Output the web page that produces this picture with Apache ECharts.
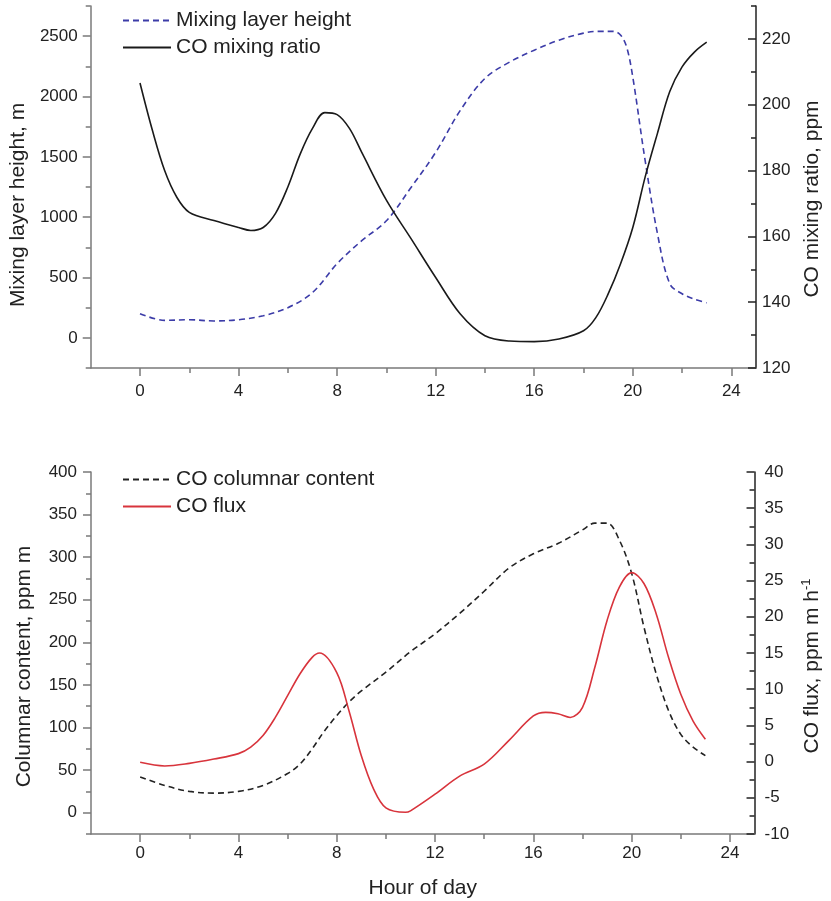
<!DOCTYPE html>
<html><head><meta charset="utf-8">
<script src="https://cdn.jsdelivr.net/npm/echarts@6/dist/echarts.min.js"></script>
<style>html,body{margin:0;padding:0;background:#fff}#c{width:831px;height:901px}</style>
</head><body><div id="c"></div>
<script>
// ---- Data ----
const mlhHours  = [0,1,2,3,4,5,6,7,8,9,10,11,12,13,14,15,16,17,18,18.6,19.2,19.5,19.75,20,20.5,21,21.5,22,22.5,23];
const mlhValues = [200,145,150,140,150,183,250,375,615,805,970,1246,1537,1885,2150,2285,2384,2467,2525,2540,2540,2510,2410,2160,1470,864,448,365,320,290];

const coHours  = [0,0.5,1,1.5,2,3,4,4.5,5,5.5,6,6.5,7,7.5,8,8.5,9,10,11,12,13,14,15,16,17,18,18.5,19,19.5,20,20.5,21,21.5,22,22.5,23];
const coValues = [206.6,192.3,180,171.8,167.3,164.8,162.7,161.8,162.7,167,175,185,192.8,197.6,197,192.8,185.5,171,159.3,147.5,136.4,129.8,128.2,128,128.8,131.3,135.3,142.5,151.6,162.7,178,191.3,204,211.5,216,219];

const colHours  = [0,1,2,3,4,5,6,6.5,7,7.5,8,8.5,9,10,11,12,13,14,15,16,17,18,18.5,19,19.5,20,20.5,21,21.5,22,22.5,23];
const colValues = [42,32,25,23,25,32,46,57,75,96,114,130,143,165,189,210,234,260,287,304,316,332,340,340,320,281,218,163,120,92,77,67];

const fluxHours  = [0,1,2,3,4,4.5,5,5.5,6,6.5,7,7.3,8,8.5,9,9.5,10,10.8,11,12,13,14,15,16,16.5,17,17.5,18,18.5,19,19.5,20,20.5,21,21.5,22,22.5,23];
const fluxValues = [-0.1,-0.6,-0.25,0.35,1.1,2.0,3.6,6.1,9.1,12.1,14.4,15.0,12.3,7.0,0.8,-3.8,-6.4,-7.0,-6.8,-4.5,-2.0,-0.35,2.9,6.3,6.8,6.6,6.1,7.5,13.0,19.5,24.1,26.1,24.6,20.4,14.4,9.3,5.6,3.1];

// ---- Tick labels ----
const xMajor = [0,4,8,12,16,20,24];
const xMinor = [2,6,10,14,18,22];
const mlhMajor = [0,500,1000,1500,2000,2500];
const mlhMinor = [-250,250,750,1250,1750,2250,2750];
const coMajor = [120,140,160,180,200,220];
const coMinor = [130,150,170,190,210,230];
const colMajor = [0,50,100,150,200,250,300,350,400];
const colMinor = [-25,25,75,125,175,225,275,325,375];
const fluxMajor = [-10,-5,0,5,10,15,20,25,30,35,40];
const fluxMinor = [-7.5,-2.5,2.5,7.5,12.5,17.5,22.5,27.5,32.5,37.5];

const names = {
  mlh: 'Mixing layer height', co: 'CO mixing ratio',
  col: 'CO columnar content', flux: 'CO flux'
};

const FONT = 'Liberation Sans, Arial, Helvetica, sans-serif';
const TXT = '#222';
const GRAY = '#7a7a7a';
const zip = (a, b) => a.map((v, i) => [v, b[i]]);
const plain = v => String(v);

function mainX(grid, margin, extra) {
  return Object.assign({
    type: 'value', gridIndex: grid, min: -2, max: 25, position: 'bottom',
    axisLine: {show: true, onZero: false, lineStyle: {color: GRAY, width: 1.5}},
    axisTick: {show: true, customValues: xMajor, length: 8, lineStyle: {color: GRAY, width: 1.5}},
    axisLabel: {customValues: xMajor, formatter: plain, margin: margin, fontSize: 17, color: TXT, fontFamily: FONT},
    splitLine: {show: false}
  }, extra || {});
}
function minorX(grid) {
  return {
    type: 'value', gridIndex: grid, min: -2, max: 25, position: 'bottom',
    axisLine: {show: false, onZero: false},
    axisTick: {show: true, customValues: xMinor, length: 5, lineStyle: {color: GRAY, width: 1.5}},
    axisLabel: {show: false}, splitLine: {show: false}
  };
}
function mainY(grid, pos, min, max, major, color, inside, margin, name, gap, pad, extraName) {
  return {
    type: 'value', gridIndex: grid, position: pos, min: min, max: max,
    name: name, nameLocation: 'middle', nameGap: gap, nameRotate: 90,
    nameTextStyle: Object.assign({fontSize: 21, color: TXT, fontFamily: FONT, padding: [0, pad, 0, 0]}, extraName || {}),
    axisLine: {show: true, onZero: false, lineStyle: {color: color, width: 1.5}},
    axisTick: {show: true, inside: inside, customValues: major, length: 8, lineStyle: {color: color, width: 1.5}},
    axisLabel: {customValues: major, formatter: plain, margin: margin, fontSize: 17, color: TXT, fontFamily: FONT},
    splitLine: {show: false}
  };
}
function minorY(grid, pos, min, max, minor, color, inside) {
  return {
    type: 'value', gridIndex: grid, position: pos, min: min, max: max,
    axisLine: {show: false, onZero: false},
    axisTick: {show: true, inside: inside, customValues: minor, length: 5, lineStyle: {color: color, width: 1.5}},
    axisLabel: {show: false}, splitLine: {show: false}
  };
}

const legendBase = {
  orient: 'vertical', left: 122, itemWidth: 48, itemHeight: 14, itemGap: 0, padding: 0,
  itemStyle: {opacity: 0},
  textStyle: {fontSize: 21, color: TXT, fontFamily: FONT, lineHeight: 27}
};

const option = {
  backgroundColor: '#fff',
  animation: false,
  grid: [
    {left: 90, right: 67, top: 6, height: 362},
    {left: 91, right: 66, top: 472, height: 362}
  ],
  legend: [
    Object.assign({}, legendBase, {top: 7, data: [names.mlh, names.co]}),
    Object.assign({}, legendBase, {top: 466, data: [names.col, names.flux]})
  ],
  xAxis: [
    mainX(0, 15),
    minorX(0),
    mainX(1, 11, {name: 'Hour of day', nameLocation: 'middle', nameGap: 44,
      nameTextStyle: {fontSize: 21, color: TXT, fontFamily: FONT}}),
    minorX(1)
  ],
  yAxis: [
    mainY(0, 'left', -250, 2750, mlhMajor, GRAY, false, 13, 'Mixing layer height, m', 55, 36),
    minorY(0, 'left', -250, 2750, mlhMinor, GRAY, false),
    mainY(0, 'right', 120, 230, coMajor, '#222', true, 6, 'CO mixing ratio, ppm', 46, 24),
    minorY(0, 'right', 120, 230, coMinor, '#222', true),
    mainY(1, 'left', -25, 400, colMajor, GRAY, false, 14, 'Columnar content, ppm m', 56, 27),
    minorY(1, 'left', -25, 400, colMinor, GRAY, false),
    mainY(1, 'right', -10, 40, fluxMajor, '#222', true, 10, '{a|CO flux, ppm m h}{s|-1}', 43, 26,
      {rich: {a: {fontSize: 21, color: TXT, fontFamily: FONT}, s: {fontSize: 13, color: TXT, fontFamily: FONT, padding: [0, 0, 12, 0]}}}),
    minorY(1, 'right', -10, 40, fluxMinor, '#222', true)
  ],
  series: [
    {name: names.mlh, type: 'line', xAxisIndex: 0, yAxisIndex: 0, data: zip(mlhHours, mlhValues),
      smooth: 0.35, symbol: 'none', lineStyle: {color: '#3c3ca8', width: 1.6, type: [6, 4]}, itemStyle: {color: '#3c3ca8'}},
    {name: names.co, type: 'line', xAxisIndex: 0, yAxisIndex: 2, data: zip(coHours, coValues),
      smooth: 0.35, symbol: 'none', lineStyle: {color: '#1a1a1a', width: 1.6}, itemStyle: {color: '#1a1a1a'}},
    {name: names.col, type: 'line', xAxisIndex: 2, yAxisIndex: 4, data: zip(colHours, colValues),
      smooth: 0.35, symbol: 'none', lineStyle: {color: '#222', width: 1.6, type: [6, 4]}, itemStyle: {color: '#222'}},
    {name: names.flux, type: 'line', xAxisIndex: 2, yAxisIndex: 6, data: zip(fluxHours, fluxValues),
      smooth: 0.35, symbol: 'none', lineStyle: {color: '#d8343c', width: 1.6}, itemStyle: {color: '#d8343c'}}
  ]
};

const chart = echarts.init(document.getElementById('c'), null, {renderer: 'canvas'});
chart.setOption(option);
</script>
</body></html>
